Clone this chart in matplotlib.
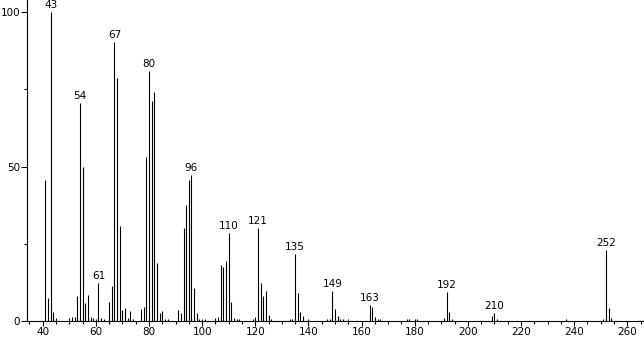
import matplotlib
matplotlib.use("Agg")
import matplotlib.pyplot as plt
from matplotlib.ticker import MultipleLocator

# m/z values and relative intensities (%)
mz = [41, 42, 43, 44, 45, 50, 51, 52, 53, 54, 55, 56, 57, 58, 59, 60, 61, 62, 63,
      65, 66, 67, 68, 69, 70, 71, 72, 73, 74, 77, 78, 79, 80, 81, 82, 83, 84, 85,
      86, 87, 91, 92, 93, 94, 95, 96, 97, 98, 99, 100, 101, 105, 106, 107, 108, 109,
      110, 111, 112, 113, 114, 119, 120, 121, 122, 123, 124, 125, 126, 133, 134,
      135, 136, 137, 138, 140, 147, 148, 149, 150, 151, 152, 153, 155, 163, 164,
      165, 166, 167, 177, 178, 180, 181, 191, 192, 193, 194, 209, 210, 211, 237,
      251, 252, 253, 254]
intensity = [45.7, 7.5, 100, 3.0, 1.0, 1.0, 1.4, 1.4, 8.2, 70.5, 50.0, 5.9, 8.5, 1.3,
             1.0, 0.5, 12.3, 1.0, 0.8, 6.2, 11.4, 90.3, 78.7, 30.8, 3.6, 4.2, 1.0, 3.3,
             0.7, 4.0, 4.6, 53.0, 81.0, 71.3, 74.2, 18.7, 2.7, 3.1, 0.8, 0.8, 3.6, 2.6,
             30.1, 37.6, 45.5, 47.1, 10.8, 2.6, 0.8, 0.8, 0.6, 1.0, 1.3, 18.1, 17.6,
             19.4, 28.4, 6.0, 1.0, 0.8, 0.7, 0.7, 1.3, 30.0, 12.2, 8.1, 9.7, 2.0, 0.7,
             0.5, 0.6, 21.7, 9.0, 2.8, 1.6, 0.8, 0.7, 0.8, 9.7, 3.9, 1.5, 0.8, 0.5, 0.5,
             5.2, 4.6, 1.2, 0.8, 0.7, 0.5, 0.5, 0.5, 0.5, 1.1, 9.3, 2.8, 0.5, 1.7, 2.5,
             0.5, 0.5, 0.8, 23.0, 4.1, 1.0]
labeled = [43, 54, 61, 67, 80, 96, 110, 121, 135, 149, 163, 192, 210, 252]

x_ticks = [40, 60, 80, 100, 120, 140, 160, 180, 200, 220, 240, 260]
y_ticks = [0, 50, 100]

fig = plt.figure(figsize=(6.44, 3.39), dpi=100)
ax = fig.add_axes([27/644, 18/339, (643-27)/644, 321/339])

ax.vlines(mz, 0, intensity, color="black", lw=0.8)

lookup = dict(zip(mz, intensity))
for m in labeled:
    ax.annotate(str(m), xy=(m, lookup[m]), xytext=(0, 1.5), textcoords="offset points",
                ha="center", va="bottom", fontsize=7.5, color="black",
                annotation_clip=False)

ax.set_xlim(34.1, 265.9)
ax.set_ylim(0, 103.9)
ax.set_xticks(x_ticks)
ax.set_yticks(y_ticks)
ax.xaxis.set_minor_locator(MultipleLocator(5))
ax.yaxis.set_minor_locator(MultipleLocator(25))
ax.tick_params(axis="x", which="major", length=3.5, width=0.8, labelsize=7.5,
               direction="out", pad=1)
ax.tick_params(axis="y", which="major", length=4.5, width=0.8, labelsize=7.5,
               direction="out", pad=0.5)
ax.tick_params(axis="both", which="minor", length=2.5, width=0.8, direction="out")

for s in ["top", "right"]:
    ax.spines[s].set_visible(False)
for s in ["left", "bottom"]:
    ax.spines[s].set_linewidth(0.8)

fig.savefig("out.png", dpi=100, facecolor="white")
